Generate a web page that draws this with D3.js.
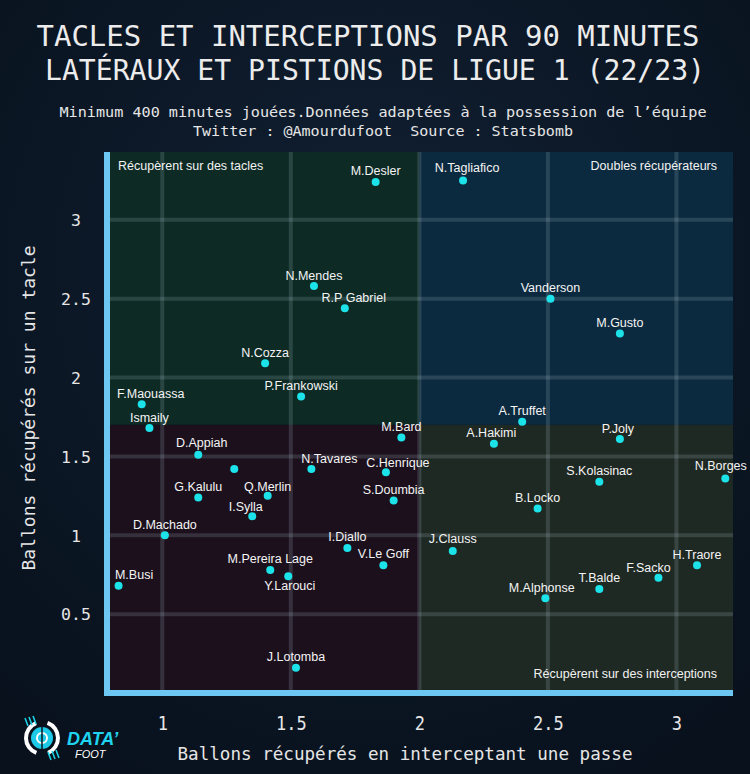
<!DOCTYPE html>
<html>
<head>
<meta charset="utf-8">
<script src="https://cdn.jsdelivr.net/npm/d3@7"></script>
<style>
  html, body { margin: 0; padding: 0; background: #0b1521; }
  svg { display: block; }
  text.pre { white-space: pre; }
</style>
</head>
<body>
<script>
// ---------- DATA ----------
const players = ["M.Desler","N.Tagliafico","N.Mendes","R.P Gabriel","N.Cozza","P.Frankowski","F.Maouassa","Ismaily","M.Bard","D.Appiah","","N.Tavares","C.Henrique","G.Kalulu","Q.Merlin","S.Doumbia","I.Sylla","D.Machado","I.Diallo","V.Le Goff","M.Pereira Lage","Y.Larouci","M.Busi","J.Lotomba","Vanderson","M.Gusto","A.Truffet","A.Hakimi","P.Joly","S.Kolasinac","N.Borges","B.Locko","J.Clauss","H.Traore","F.Sacko","T.Balde","M.Alphonse"];
const interceptions = [1.83,2.17,1.59,1.71,1.40,1.54,0.92,0.95,1.93,1.14,1.28,1.58,1.87,1.14,1.41,1.90,1.35,1.01,1.72,1.86,1.42,1.49,0.83,1.52,2.51,2.78,2.40,2.29,2.78,2.70,3.19,2.46,2.13,3.08,2.93,2.70,2.49];
const tackles = [3.24,3.25,2.58,2.44,2.09,1.88,1.83,1.68,1.62,1.51,1.42,1.42,1.40,1.24,1.25,1.22,1.12,1.00,0.92,0.81,0.78,0.74,0.68,0.16,2.50,2.28,1.72,1.58,1.61,1.34,1.36,1.17,0.90,0.81,0.73,0.66,0.60];
const xTicks = [1, 1.5, 2, 2.5, 3];
const yTicks = [0.5, 1, 1.5, 2, 2.5, 3];
const xSplit = 2.0, ySplit = 1.7;
const quadrantLabels = ["Récupèrent sur des tacles", "Doubles récupérateurs", "Récupèrent sur des interceptions"];
const titleLines = ["TACLES ET INTERCEPTIONS PAR 90 MINUTES", "LATÉRAUX ET PISTIONS DE LIGUE 1 (22/23)"];
const subtitleLines = ["Minimum 400 minutes jouées.Données adaptées à la possession de l’équipe", "Twitter : @Amourdufoot  Source : Statsbomb"];
const xTitle = "Ballons récupérés en interceptant une passe";
const yTitle = "Ballons récupérés sur un tacle";

// ---------- LAYOUT (label nudges, px) ----------
const nudge = {
  "N.Tagliafico":[4,-8], "R.P Gabriel":[9,-6], "F.Maouassa":[9,-6], "D.Appiah":[3.5,-7.5],
  "N.Tavares":[18,-6], "C.Henrique":[12,-5.5], "Q.Merlin":[0,-5], "I.Sylla":[-6.5,-5],
  "Y.Larouci":[1.5,14], "M.Busi":[15.5,-7], "A.Hakimi":[-2.6,-6.6], "P.Joly":[-2,-6.4],
  "N.Borges":[-4.5,-8.5], "J.Clauss":[0,-8], "F.Sacko":[-10,-6], "M.Alphonse":[-3.6,-6.7],
  "V.Le Goff":[0,-7], "S.Kolasinac":[0,-7]
};

const W = 750, H = 774;
const svg = d3.select("body").append("svg").attr("width", W).attr("height", H);
const defs = svg.append("defs");
const bg = defs.append("radialGradient").attr("id","bg").attr("cx","50%").attr("cy","35%").attr("r","75%");
bg.append("stop").attr("offset","0%").attr("stop-color","#112033");
bg.append("stop").attr("offset","100%").attr("stop-color","#08111c");
svg.append("rect").attr("width", W).attr("height", H).attr("fill", "url(#bg)");

const plot = {left: 107, right: 733, top: 152, bottom: 693};
const x = d3.scaleLinear().domain([0.785, 3.22]).range([plot.left, plot.right]);
const y = d3.scaleLinear().domain([0, 3.43]).range([plot.bottom, plot.top]);

// quadrants
const quads = [
  {x0: x.domain()[0], x1: xSplit, y0: ySplit, y1: y.domain()[1], fill: "#0d2a24"},
  {x0: xSplit, x1: x.domain()[1], y0: ySplit, y1: y.domain()[1], fill: "#0c2a3f"},
  {x0: x.domain()[0], x1: xSplit, y0: y.domain()[0], y1: ySplit, fill: "#1c101d"},
  {x0: xSplit, x1: x.domain()[1], y0: y.domain()[0], y1: ySplit, fill: "#1f2923"}
];
svg.append("g").selectAll("rect").data(quads).join("rect")
  .attr("x", d => x(d.x0)).attr("y", d => y(d.y1))
  .attr("width", d => x(d.x1) - x(d.x0)).attr("height", d => y(d.y0) - y(d.y1))
  .attr("fill", d => d.fill);

// grid
const grid = svg.append("g").attr("stroke", "rgba(190,215,230,0.16)").attr("stroke-width", 4);
grid.selectAll("line.v").data(xTicks).join("line").attr("class","v")
  .attr("x1", d => x(d)).attr("x2", d => x(d)).attr("y1", plot.top).attr("y2", plot.bottom);
grid.selectAll("line.h").data(yTicks).join("line").attr("class","h")
  .attr("y1", d => y(d)).attr("y2", d => y(d)).attr("x1", plot.left).attr("x2", plot.right);

// axis lines
svg.append("line").attr("x1", plot.left).attr("x2", plot.left).attr("y1", plot.top).attr("y2", plot.bottom + 3)
  .attr("stroke", "#6cc8f2").attr("stroke-width", 6);
svg.append("line").attr("x1", plot.left - 3).attr("x2", plot.right).attr("y1", plot.bottom).attr("y2", plot.bottom)
  .attr("stroke", "#6cc8f2").attr("stroke-width", 6);

// axes ticks via d3 axes
const mono = "'DejaVu Sans Mono', 'Liberation Mono', monospace";
const xAxis = svg.append("g").attr("transform", `translate(0,${plot.bottom + 24})`)
  .call(d3.axisBottom(x).tickValues(xTicks).tickSize(0).tickFormat(d3.format("")));
xAxis.select(".domain").remove();
xAxis.selectAll("text").attr("fill", "#e6e6e6").attr("font-family", mono).attr("font-size", 17)
  .attr("transform", "scale(1,1.15)").attr("dy", "0.5em");
const yAxis = svg.append("g").attr("transform", `translate(76,0)`)
  .call(d3.axisLeft(y).tickValues(yTicks).tickSize(0).tickFormat(d3.format("")));
yAxis.select(".domain").remove();
yAxis.selectAll("text").attr("fill", "#e6e6e6").attr("font-family", mono).attr("font-size", 16.5)
  .attr("text-anchor", "middle").attr("x", 0).attr("dy", "0.35em");

// quadrant labels
const sans = "'Liberation Sans', Arial, sans-serif";
svg.append("text").text(quadrantLabels[0]).attr("x", 118).attr("y", 170)
  .attr("fill", "#f2f2f2").attr("font-family", sans).attr("font-size", 12.5);
svg.append("text").text(quadrantLabels[1]).attr("x", 717).attr("y", 170).attr("text-anchor", "end")
  .attr("fill", "#f2f2f2").attr("font-family", sans).attr("font-size", 12.5);
svg.append("text").text(quadrantLabels[2]).attr("x", 717).attr("y", 678).attr("text-anchor", "end")
  .attr("fill", "#f2f2f2").attr("font-family", sans).attr("font-size", 12.5);

// points
const data = players.map((p, i) => ({name: p, xi: interceptions[i], yt: tackles[i]}));
svg.append("g").selectAll("circle").data(data).join("circle")
  .attr("cx", d => x(d.xi)).attr("cy", d => y(d.yt)).attr("r", 4).attr("fill", "#1ce3ea");
svg.append("g").selectAll("text").data(data.filter(d => d.name)).join("text")
  .text(d => d.name)
  .attr("x", d => x(d.xi) + (nudge[d.name] ? nudge[d.name][0] : 0))
  .attr("y", d => y(d.yt) + (nudge[d.name] ? nudge[d.name][1] : -6.5))
  .attr("text-anchor", "middle").attr("fill", "#f4f4f4")
  .attr("font-family", sans).attr("font-size", 12.5);

// titles
svg.append("text").text(titleLines[0]).attr("x", 368).attr("y", 46).attr("text-anchor", "middle")
  .attr("fill", "#ececec").attr("font-family", mono).attr("font-size", 29)
  .attr("textLength", 663).attr("lengthAdjust", "spacingAndGlyphs");
svg.append("text").text(titleLines[1]).attr("x", 375).attr("y", 80).attr("text-anchor", "middle")
  .attr("fill", "#ececec").attr("font-family", mono).attr("font-size", 29)
  .attr("textLength", 660).attr("lengthAdjust", "spacingAndGlyphs");
svg.append("text").text(subtitleLines[0]).attr("x", 383).attr("y", 117).attr("text-anchor", "middle")
  .attr("fill", "#e6e6e6").attr("font-family", mono).attr("font-size", 14.5)
  .attr("textLength", 647).attr("lengthAdjust", "spacingAndGlyphs");
svg.append("text").attr("class", "pre").attr("xml:space", "preserve").text(subtitleLines[1])
  .attr("x", 383).attr("y", 136).attr("text-anchor", "middle")
  .attr("fill", "#e6e6e6").attr("font-family", mono).attr("font-size", 14.5)
  .attr("textLength", 380).attr("lengthAdjust", "spacingAndGlyphs");

// axis titles
svg.append("text").text(xTitle).attr("x", 405).attr("y", 760).attr("text-anchor", "middle")
  .attr("fill", "#e6e6e6").attr("font-family", mono).attr("font-size", 17.5)
  .attr("textLength", 455).attr("lengthAdjust", "spacingAndGlyphs");
svg.append("text").text(yTitle).attr("transform", "translate(35,408) rotate(-90)").attr("text-anchor", "middle")
  .attr("fill", "#e6e6e6").attr("font-family", mono).attr("font-size", 17.5)
  .attr("textLength", 325).attr("lengthAdjust", "spacingAndGlyphs");

// logo
const logo = svg.append("g").attr("transform", "translate(42,738)");
const arc = d3.arc();
[[0.35, 2.75], [3.5, 5.9]].forEach(([a0, a1]) => {
  logo.append("path").attr("d", arc({innerRadius: 14, outerRadius: 18, startAngle: a0, endAngle: a1})).attr("fill", "#ffffff");
});
logo.append("circle").attr("r", 11).attr("fill", "#1cc9e6");
logo.append("circle").attr("r", 5).attr("fill", "none").attr("stroke", "#ffffff").attr("stroke-width", 2);
logo.append("line").attr("x1", 0).attr("x2", 0).attr("y1", -11).attr("y2", 11).attr("stroke", "#0b1521").attr("stroke-width", 1.5);
[-1, 1].forEach(s => {
  for (let k = 0; k < 3; k++) {
    logo.append("line").attr("x1", s * (-14 + k * 4)).attr("y1", s * (-12 - k)).attr("x2", s * (-17 + k * 4)).attr("y2", s * (-20 - k))
      .attr("stroke", "#1cd6ea").attr("stroke-width", 1.5);
  }
});
svg.append("text").text("DATA’").attr("x", 67).attr("y", 745).attr("fill", "#1fd3ef")
  .attr("font-family", sans).attr("font-weight", "bold").attr("font-style", "italic").attr("font-size", 18);
svg.append("text").text("FOOT").attr("x", 75).attr("y", 758).attr("fill", "#ffffff")
  .attr("font-family", sans).attr("font-style", "italic").attr("font-size", 11);
</script>
</body>
</html>
